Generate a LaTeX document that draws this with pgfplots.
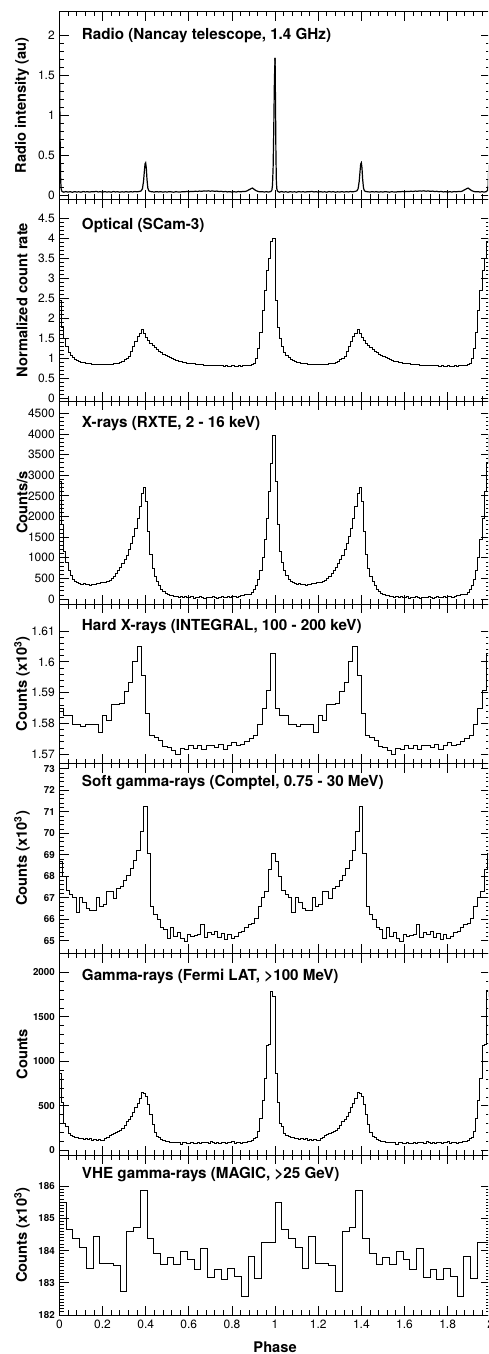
\documentclass[border=0pt]{standalone}
\usepackage{fontspec}
\setmainfont{TeX Gyre Heros}
\usepackage{pgfplots}
\usepackage{pgfplotstable}
\pgfplotsset{compat=1.18}

\pgfplotstableread{
x y
0.000 1.72
0.002 1.15
0.004 0.50
0.006 0.18
0.008 0.08
0.011 0.05
0.015 0.042
0.02 0.036
0.03 0.044
0.04 0.037
0.05 0.042
0.06 0.035
0.07 0.043
0.08 0.038
0.09 0.041
0.10 0.036
0.11 0.044
0.12 0.039
0.13 0.042
0.14 0.037
0.15 0.043
0.16 0.040
0.17 0.046
0.18 0.039
0.19 0.042
0.20 0.037
0.21 0.043
0.22 0.038
0.23 0.041
0.24 0.036
0.25 0.044
0.26 0.039
0.27 0.042
0.28 0.036
0.29 0.041
0.30 0.038
0.31 0.043
0.32 0.037
0.33 0.042
0.34 0.039
0.35 0.044
0.36 0.040
0.37 0.045
0.375 0.048
0.380 0.055
0.385 0.080
0.390 0.170
0.394 0.300
0.397 0.390
0.400 0.405
0.403 0.340
0.406 0.200
0.410 0.090
0.414 0.055
0.42 0.045
0.43 0.041
0.44 0.038
0.45 0.043
0.46 0.039
0.47 0.042
0.48 0.037
0.49 0.041
0.50 0.038
0.51 0.043
0.52 0.040
0.53 0.036
0.54 0.042
0.55 0.039
0.56 0.037
0.57 0.043
0.58 0.040
0.59 0.045
0.60 0.041
0.61 0.046
0.62 0.043
0.63 0.048
0.64 0.045
0.65 0.050
0.66 0.047
0.67 0.052
0.68 0.049
0.69 0.053
0.70 0.048
0.71 0.052
0.72 0.046
0.73 0.050
0.74 0.044
0.75 0.047
0.76 0.041
0.77 0.045
0.78 0.039
0.79 0.043
0.80 0.037
0.81 0.042
0.82 0.038
0.83 0.044
0.84 0.040
0.85 0.045
0.86 0.043
0.87 0.052
0.88 0.068
0.89 0.082
0.895 0.088
0.90 0.078
0.91 0.058
0.92 0.046
0.93 0.040
0.94 0.043
0.95 0.038
0.96 0.042
0.97 0.037
0.975 0.041
0.980 0.044
0.985 0.060
0.988 0.12
0.991 0.35
0.994 0.85
0.997 1.45
1.000 1.72
}\tabRadio

\pgfplotstableread{
x y
0.00 2.45
0.01 1.78
0.02 1.50
0.03 1.29
0.04 1.15
0.05 1.07
0.06 1.02
0.07 0.98
0.08 0.95
0.09 0.92
0.10 0.90
0.11 0.89
0.12 0.88
0.13 0.87
0.14 0.86
0.15 0.85
0.16 0.85
0.17 0.84
0.18 0.84
0.19 0.84
0.20 0.84
0.21 0.84
0.22 0.85
0.23 0.84
0.24 0.85
0.25 0.86
0.26 0.87
0.27 0.88
0.28 0.90
0.29 0.92
0.30 0.96
0.31 1.00
0.32 1.05
0.33 1.17
0.34 1.29
0.35 1.42
0.36 1.54
0.37 1.62
0.38 1.71
0.39 1.62
0.40 1.52
0.41 1.44
0.42 1.38
0.43 1.32
0.44 1.27
0.45 1.23
0.46 1.18
0.47 1.14
0.48 1.10
0.49 1.07
0.50 1.04
0.51 1.01
0.52 0.99
0.53 0.97
0.54 0.95
0.55 0.93
0.56 0.92
0.57 0.90
0.58 0.89
0.59 0.88
0.60 0.87
0.61 0.87
0.62 0.86
0.63 0.85
0.64 0.85
0.65 0.84
0.66 0.84
0.67 0.83
0.68 0.83
0.69 0.83
0.70 0.82
0.71 0.82
0.72 0.82
0.73 0.81
0.74 0.82
0.75 0.81
0.76 0.80
0.77 0.81
0.78 0.80
0.79 0.80
0.80 0.81
0.81 0.80
0.82 0.80
0.83 0.81
0.84 0.80
0.85 0.81
0.86 0.81
0.87 0.82
0.88 0.83
0.89 0.84
0.90 0.88
0.91 1.00
0.92 1.25
0.93 1.65
0.94 2.20
0.95 2.70
0.96 3.20
0.97 3.50
0.98 3.92
0.99 4.00
1.00 2.45
}\tabOptical

\pgfplotstableread{
x y
0.00 2840
0.01 1800
0.02 1150
0.03 880
0.04 680
0.05 560
0.06 480
0.07 430
0.08 400
0.09 380
0.10 360
0.11 370
0.12 350
0.13 345
0.14 340
0.15 350
0.16 355
0.17 370
0.18 380
0.19 390
0.20 400
0.21 410
0.22 430
0.23 460
0.24 500
0.25 550
0.26 610
0.27 680
0.28 760
0.29 850
0.30 950
0.31 1060
0.32 1190
0.33 1340
0.34 1510
0.35 1700
0.36 1950
0.37 2250
0.38 2550
0.39 2700
0.40 2360
0.41 1630
0.42 1070
0.43 750
0.44 540
0.45 420
0.46 320
0.47 240
0.48 180
0.49 140
0.50 110
0.51 90
0.52 75
0.53 60
0.54 55
0.55 40
0.56 50
0.57 35
0.58 60
0.59 30
0.60 45
0.61 55
0.62 25
0.63 40
0.64 30
0.65 50
0.66 35
0.67 20
0.68 45
0.69 30
0.70 40
0.71 55
0.72 35
0.73 25
0.74 40
0.75 50
0.76 30
0.77 45
0.78 60
0.79 35
0.80 50
0.81 65
0.82 40
0.83 70
0.84 80
0.85 95
0.86 100
0.87 110
0.88 120
0.89 170
0.90 240
0.91 340
0.92 480
0.93 700
0.94 1000
0.95 1450
0.96 1950
0.97 2600
0.98 3290
0.99 3975
1.00 2840
}\tabXray

\pgfplotstableread{
x y
0.00 1.5849
0.02 1.5827
0.04 1.5827
0.06 1.5797
0.08 1.5795
0.10 1.5789
0.12 1.5797
0.14 1.5797
0.16 1.5795
0.18 1.5770
0.20 1.5826
0.22 1.5808
0.24 1.5861
0.26 1.5861
0.28 1.5864
0.30 1.5904
0.32 1.5934
0.34 1.6001
0.36 1.6049
0.38 1.5957
0.40 1.5832
0.42 1.5761
0.44 1.5755
0.46 1.5745
0.48 1.5725
0.50 1.5722
0.52 1.5712
0.54 1.5700
0.56 1.5720
0.58 1.5715
0.60 1.5728
0.62 1.5720
0.64 1.5728
0.66 1.5715
0.68 1.5727
0.70 1.5727
0.72 1.5722
0.74 1.5730
0.76 1.5715
0.78 1.5727
0.80 1.5738
0.82 1.5727
0.84 1.5732
0.86 1.5740
0.88 1.5750
0.90 1.5762
0.92 1.5797
0.94 1.5849
0.96 1.5907
0.98 1.6027
1.00 1.5849
}\tabHard

\pgfplotstableread{
x y
0.000000 68.70
0.015625 68.00
0.031250 67.35
0.046875 67.15
0.062500 67.00
0.078125 66.30
0.093750 67.00
0.109375 66.80
0.125000 66.50
0.140625 66.40
0.156250 66.40
0.171875 67.00
0.187500 66.60
0.203125 66.70
0.218750 67.30
0.234375 67.30
0.250000 66.95
0.265625 67.45
0.281250 67.50
0.296875 67.80
0.312500 68.05
0.328125 68.35
0.343750 68.75
0.359375 69.20
0.375000 70.10
0.390625 71.25
0.406250 69.05
0.421875 66.60
0.437500 66.20
0.453125 66.00
0.468750 65.60
0.484375 65.50
0.500000 65.10
0.515625 65.60
0.531250 65.20
0.546875 65.40
0.562500 65.10
0.578125 64.95
0.593750 65.30
0.609375 65.20
0.625000 65.25
0.640625 65.30
0.656250 65.75
0.671875 65.15
0.687500 65.40
0.703125 65.30
0.718750 65.45
0.734375 65.15
0.750000 65.35
0.765625 65.05
0.781250 65.30
0.796875 65.10
0.812500 65.20
0.828125 65.40
0.843750 65.45
0.859375 65.60
0.875000 65.75
0.890625 65.80
0.906250 66.05
0.921875 66.60
0.937500 67.00
0.953125 67.30
0.968750 68.30
0.984375 69.06
1.000000 68.70
}\tabSoft

\pgfplotstableread{
x y
0.00 865
0.01 540
0.02 304
0.03 267
0.04 192
0.05 170
0.06 160
0.07 150
0.08 140
0.09 130
0.10 135
0.11 120
0.12 130
0.13 120
0.14 130
0.15 115
0.16 125
0.17 110
0.18 125
0.19 115
0.20 110
0.21 130
0.22 140
0.23 165
0.24 180
0.25 195
0.26 205
0.27 215
0.28 225
0.29 250
0.30 280
0.31 320
0.32 350
0.33 380
0.34 430
0.35 480
0.36 530
0.37 585
0.38 650
0.39 640
0.40 600
0.41 510
0.42 400
0.43 285
0.44 200
0.45 160
0.46 140
0.47 120
0.48 110
0.49 100
0.50 95
0.51 90
0.52 92
0.53 88
0.54 85
0.55 90
0.56 70
0.57 88
0.58 85
0.59 80
0.60 82
0.61 85
0.62 80
0.63 78
0.64 84
0.65 80
0.66 85
0.67 90
0.68 88
0.69 80
0.70 95
0.71 85
0.72 80
0.73 90
0.74 82
0.75 85
0.76 90
0.77 78
0.78 88
0.79 85
0.80 95
0.81 80
0.82 85
0.83 90
0.84 80
0.85 88
0.86 90
0.87 95
0.88 100
0.89 110
0.90 135
0.91 150
0.92 210
0.93 360
0.94 565
0.95 810
0.96 1180
0.97 1190
0.98 1782
0.99 1725
1.00 865
}\tabFermi

\pgfplotstableread{
x y
0.00000 185.48
0.03125 184.66
0.06250 184.38
0.09375 184.10
0.12500 183.45
0.15625 184.45
0.18750 183.60
0.21875 183.60
0.25000 183.55
0.28125 182.72
0.31250 184.58
0.34375 184.72
0.37500 185.86
0.40625 184.38
0.43750 183.91
0.46875 183.58
0.50000 183.79
0.53125 183.58
0.56250 183.96
0.59375 183.71
0.62500 183.40
0.65625 184.07
0.68750 183.17
0.71875 183.42
0.75000 183.11
0.78125 183.45
0.81250 183.19
0.84375 182.59
0.87500 183.83
0.90625 183.14
0.93750 184.24
0.96875 184.24
1.00000 185.48
}\tabVHE

\tikzset{
  ttl/.style={anchor=west, font=\bfseries\fontsize{11.4}{13}\selectfont, inner sep=0pt},
}
\pgfplotsset{
  panel/.style={
    scale only axis, width=323.5pt,
    anchor=north west,
    xmin=0, xmax=2,
    xtick={0,0.2,0.4,0.6,0.8,1,1.2,1.4,1.6,1.8,2},
    minor x tick num=4,
    xticklabels={},
    tick align=inside,
    major tick length=7pt, minor tick length=3.5pt,
    axis line style={line width=0.75pt},
    every tick/.style={black, line width=0.6pt},
    scaled ticks=false,
    /pgf/number format/assume math mode=true,
    /pgf/number format/1000 sep={},
    tick label style={font=\fontsize{9}{10}\selectfont},
    ylabel style={at={(axis description cs:-0.0867,0.5)}, anchor=center,
                  font=\bfseries\fontsize{11}{13}\selectfont},
    clip=true,
  },
  hist/.style={const plot mark left, black, line width=0.75pt, mark=none},
}

\begin{document}
\begin{tikzpicture}
\begin{scope}
\clip (-44.55pt,8.775pt) rectangle (321.45pt,-1006.7pt);

% Radio
\begin{axis}[panel, at={(0pt,0pt)}, height=140.5pt, ymin=-0.05, ymax=2.3,
  ytick={0,0.5,1,1.5,2}, minor y tick num=4, ylabel={Radio intensity (au)}]
\addplot[black, line width=0.9pt, mark=none] table[x=x,y=y] {\tabRadio};
\addplot[black, line width=0.9pt, mark=none] table[x expr=\thisrow{x}+1,y=y] {\tabRadio};
\node[ttl, yshift=-18.2pt] at (rel axis cs:0.0517,1) {Radio (Nancay telescope, 1.4 GHz)};
\end{axis}

% Optical
\begin{axis}[panel, at={(0pt,-140.5pt)}, height=151.5pt, ymin=-0.07, ymax=4.98,
  ytick={0,0.5,1,1.5,2,2.5,3,3.5,4,4.5}, minor y tick num=4, ylabel={Normalized count rate}]
\addplot[hist] table[x=x,y=y] {\tabOptical};
\addplot[hist] table[x expr=\thisrow{x}+1,y=y] {\tabOptical};
\node[ttl, yshift=-20pt] at (rel axis cs:0.0517,1) {Optical (SCam-3)};
\end{axis}

% X-rays
\begin{axis}[panel, at={(0pt,-292pt)}, height=152.25pt, ymin=-121, ymax=4798,
  ytick={0,500,1000,1500,2000,2500,3000,3500,4000,4500}, minor y tick num=4, ylabel={Counts/s}]
\addplot[hist] table[x=x,y=y] {\tabXray};
\addplot[hist] table[x expr=\thisrow{x}+1,y=y] {\tabXray};
\node[ttl, yshift=-17.2pt] at (rel axis cs:0.0517,1) {X-rays (RXTE, 2 - 16 keV)};
\end{axis}

% Hard X-rays
\begin{axis}[panel, at={(0pt,-444.25pt)}, height=119.5pt, ymin=1.567, ymax=1.6188,
  ytick={1.57,1.58,1.59,1.6,1.61}, minor y tick num=4, ylabel={Counts (x10\textsuperscript{3})},
  yticklabel style={/pgf/number format/precision=2}]
\addplot[hist] table[x=x,y=y] {\tabHard};
\addplot[hist] table[x expr=\thisrow{x}+1,y=y] {\tabHard};
\node[ttl, yshift=-16.5pt] at (rel axis cs:0.0517,1) {Hard X-rays (INTEGRAL, 100 - 200 keV)};
\end{axis}

% Soft gamma
\begin{axis}[panel, at={(0pt,-563.75pt)}, height=142.5pt, ymin=64.41, ymax=73.25,
  ytick={65,66,67,68,69,70,71,72,73}, minor y tick num=4, ylabel={Counts (x10\textsuperscript{3})},
  yticklabel style={font=\bfseries\fontsize{7.3}{8}\selectfont}]
\addplot[hist] table[x=x,y=y] {\tabSoft};
\addplot[hist] table[x expr=\thisrow{x}+1,y=y] {\tabSoft};
\node[ttl, yshift=-14.5pt] at (rel axis cs:0.0517,1) {Soft gamma-rays (Comptel, 0.75 - 30 MeV)};
\end{axis}

% Fermi
\begin{axis}[panel, at={(0pt,-706.25pt)}, height=151.25pt, ymin=-53, ymax=2213,
  ytick={0,500,1000,1500,2000}, minor y tick num=4, ylabel={Counts},
  yticklabel style={font=\bfseries\fontsize{7.3}{8}\selectfont}]
\addplot[hist] table[x=x,y=y] {\tabFermi};
\addplot[hist] table[x expr=\thisrow{x}+1,y=y] {\tabFermi};
\node[ttl, yshift=-17.5pt] at (rel axis cs:0.0517,1) {Gamma-rays (Fermi LAT, >100 MeV)};
\end{axis}

% VHE
\begin{axis}[panel, at={(0pt,-857.5pt)}, height=120pt, ymin=182, ymax=186.96,
  ytick={182,183,184,185,186}, minor y tick num=9, ylabel={Counts (x10\textsuperscript{3})},
  yticklabel style={font=\bfseries\fontsize{7.3}{8}\selectfont},
  xticklabels={0,0.2,0.4,0.6,0.8,1,1.2,1.4,1.6,1.8,2},
  xlabel={Phase},
  xlabel style={at={(axis description cs:0.5,-0.198)}, anchor=center,
                font=\bfseries\fontsize{11}{13}\selectfont}]
\addplot[hist] table[x=x,y=y] {\tabVHE};
\addplot[hist] table[x expr=\thisrow{x}+1,y=y] {\tabVHE};
\node[ttl, yshift=-14.5pt] at (rel axis cs:0.0517,1) {VHE gamma-rays (MAGIC, >25 GeV)};
\end{axis}
\end{scope}
\pgfresetboundingbox
\path[use as bounding box] (-44.55pt,8.775pt) rectangle (321.45pt,-1006.7pt);
\end{tikzpicture}
\end{document}
